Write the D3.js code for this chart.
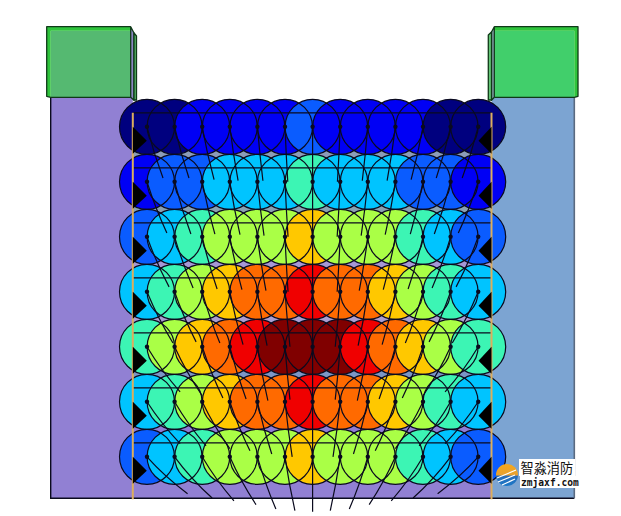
<!DOCTYPE html>
<html><head><meta charset="utf-8">
<script src="https://cdn.jsdelivr.net/npm/d3@7/dist/d3.min.js"></script>
<style>html,body{margin:0;padding:0;background:#fff}svg{display:block}</style>
</head><body><svg id="c" width="621" height="516"></svg>
<script>
// Intensity level (0..9, jet palette) of each nozzle cell, row by row, 13 columns
const row1 = [0,0,1,1,1,1,2,1,1,1,1,0,0];
const row2 = [1,2,2,3,3,3,4,3,3,3,2,2,1];
const row3 = [2,3,4,5,5,5,6,5,5,5,4,3,2];
const row4 = [3,4,5,6,7,7,8,7,7,6,5,4,3];
const row5 = [4,5,6,7,8,9,9,9,8,7,6,5,4];
const row6 = [3,4,5,6,7,7,8,7,7,6,5,4,3];
const row7 = [2,3,4,5,5,5,6,5,5,5,4,3,2];
const rows = [row1,row2,row3,row4,row5,row6,row7];
const jetColors = ["#00007f","#0000f5","#0a5cff","#00c4ff","#3cf5b4","#aaff46","#ffc800","#ff6a00","#f00000","#800000"];
const gapColors = ["#8c9cb8","#8aa2b2","#a698d6","#ab9ed2","#7c96c6","#8f7cd6"];

// Where each spray line lands, in column / row units (left half; right half mirrors)
const endCols = [
  [0.58,1.52,2.43,3.30,4.20,5.10,6],
  [0.72,1.59,2.46,3.37,4.24,5.11,6],
  [0.80,1.67,2.54,3.44,4.31,5.11,6],
  [0.94,1.78,2.64,3.48,4.35,5.18,6],
  [1.20,2.00,2.75,3.59,4.38,5.18,6],
  [1.20,2.14,3.00,3.73,4.52,5.26,6],
  [1.47,2.36,3.15,3.95,4.67,5.36,6]];
const endRows = [
  [0.93,0.93,0.96,0.98,0.98,1.00,1.00],
  [1.93,1.95,1.95,1.96,1.98,2.00,2.00],
  [2.91,2.93,2.95,2.96,2.98,3.00,3.00],
  [3.93,3.91,3.93,3.96,3.98,4.00,4.00],
  [4.82,4.89,4.93,4.95,4.98,4.96,5.00],
  [5.76,5.80,5.85,5.89,5.95,6.00,6.00],
  [6.67,6.75,6.80,6.87,6.95,6.98,7.00]];

const x = d3.scaleLinear().domain([0,12]).range([147,478.2]);
const y = d3.scaleLinear().domain([0,6]).range([126.8,456.8]);
const R = 27.5;
const color = d3.scaleOrdinal().domain(d3.range(10)).range(jetColors);
const svg = d3.select("#c");
const ink = "#0a0a1e";

const defs = svg.append("defs");
const lg2 = defs.append("linearGradient").attr("id","lg2").attr("x1",0).attr("x2",0).attr("y1",0).attr("y2",1);
lg2.append("stop").attr("offset",0).attr("stop-color","#f5a81c");
lg2.append("stop").attr("offset",.5).attr("stop-color","#e8a030");
lg2.append("stop").attr("offset",.55).attr("stop-color","#2a6cb8");
lg2.append("stop").attr("offset",1).attr("stop-color","#1a78c8");

const wallL=50.7,wallR=574.3,wallT=97.3,wallB=498.3;
const wx0=132.8, wx1=491.5;

// walls
svg.append("rect").attr("x",wallL).attr("y",wallT).attr("width",wx1-wallL).attr("height",wallB-wallT).attr("fill","#9180d3");
svg.append("rect").attr("x",wx1).attr("y",wallT).attr("width",wallR-wx1).attr("height",wallB-wallT).attr("fill","#7ca4d2");
svg.append("rect").attr("x",wx0).attr("y",wallT-1).attr("width",wx1-wx0).attr("height",16).attr("fill","#fff");
gapColors.forEach((c,i)=>{
  svg.append("rect").attr("x",wx0).attr("width",wx1-wx0)
    .attr("y",y(i)+14).attr("height",y(i+1)-y(i)-28).attr("fill",c);
});
svg.append("path").attr("fill","none").attr("stroke",ink).attr("stroke-width",1.4)
  .attr("d",`M${wallL},${wallT}V${wallB}H${wallR}`);
svg.append("path").attr("fill","none").attr("stroke","#5a6a80").attr("stroke-width",1.6)
  .attr("d",`M${wallR},${wallT}V${wallB}`);

// green blocks
const blockStroke="#0f3a18", bevel="#2fc43c";
function block(face,sideGrey,sideGreen,mirror){
  const t=26.7,ft=30.7,fb=wallT;
  const g=svg.append("g");
  const outl=s=>s.attr("stroke",blockStroke).attr("stroke-width",1.3).attr("stroke-linejoin","round");
  if(!mirror){
    const fx0=50.7,fx1=130.7;
    g.append("rect").attr("x",fx0).attr("y",ft).attr("width",fx1-fx0).attr("height",fb-ft).attr("fill",face);
    g.append("path").attr("fill",bevel).attr("d",`M46.7,${t}H${fx1}L${fx1},${ft}H${fx0}V${fb}L46.7,${fb-1}Z`);
    outl(g.append("path").attr("fill",sideGrey).attr("d",`M${fx1},${t}L134,33V${fb+3}L${fx1},${fb}Z`));
    outl(g.append("path").attr("fill",sideGreen).attr("d",`M134,33L136.5,36V100H134Z`));
    outl(g.append("path").attr("fill","none").attr("d",`M${fx1},${t}H46.7V${fb-1}L${fx0},${fb}H${fx1}`));
  } else {
    const fx0=494.3,fx1=574.3;
    g.append("rect").attr("x",fx0).attr("y",ft).attr("width",fx1-fx0).attr("height",fb-ft).attr("fill",face);
    g.append("path").attr("fill",bevel).attr("d",`M${fx0},${t}H578V${fb-1}L${fx1},${fb}V${ft}H${fx0}Z`);
    outl(g.append("path").attr("fill",sideGrey).attr("d",`M${fx0},${t}L491.5,32V${fb+3}L${fx0},${fb}Z`));
    outl(g.append("path").attr("fill",sideGreen).attr("d",`M491.5,32L488.3,35V100H491.5Z`));
    outl(g.append("path").attr("fill","none").attr("d",`M${fx0},${t}H578V${fb-1}L${fx1},${fb}H${fx0}`));
  }
}
block("#55b971","#8c86c2","#55b565",false);
block("#41cf6b","#8ca2b6","#62c474",true);

// cells: fills first, painted left to right, then all outlines on top
const cells = rows.flatMap((r,ri)=>r.map((v,ci)=>({r:ri,c:ci,v})));
svg.append("g").selectAll("circle").data(cells).join("circle")
  .attr("cx",d=>x(d.c)).attr("cy",d=>y(d.r)).attr("r",R).attr("fill",d=>color(d.v));
svg.append("g").selectAll("circle").data(cells).join("circle")
  .attr("cx",d=>x(d.c)).attr("cy",d=>y(d.r)).attr("r",R).attr("fill","none")
  .attr("stroke",ink).attr("stroke-width",1.2);

// pipes
svg.append("g").selectAll("line").data(rows).join("line")
  .attr("x1",wx0).attr("x2",wx1)
  .attr("y1",(d,i)=>y(i)-14).attr("y2",(d,i)=>y(i)-14)
  .attr("stroke",ink).attr("stroke-width",1.3);

// spray lines
const sprays = cells.map(d=>{
  const m = d.c<=6 ? d.c : 12-d.c;
  const ex = d.c<=6 ? endCols[d.r][m] : 12-endCols[d.r][m];
  return {...d, ex, ey:endRows[d.r][m]};
});
svg.append("g").selectAll("path").data(sprays).join("path")
  .attr("fill","none").attr("stroke",ink).attr("stroke-width",1.2)
  .attr("d",d=>{
    const p=d3.path(),x0=x(d.c),y0=y(d.r),x1=x(d.ex),y1=y(d.ey);
    p.moveTo(x0,y0);
    p.quadraticCurveTo(x0+(x1-x0)*0.42,y0+(y1-y0)*0.52,x1,y1);
    return p.toString();
  });
svg.append("g").selectAll("circle").data(cells).join("circle")
  .attr("cx",d=>x(d.c)).attr("cy",d=>y(d.r)).attr("r",2.2).attr("fill",ink);

// tan posts
[wx0,wx1].forEach(px=>svg.append("line").attr("x1",px).attr("x2",px)
  .attr("y1",y(0)-14).attr("y2",wallB+1).attr("stroke","#dcae5e").attr("stroke-width",2));

// black brackets
const brackets = rows.flatMap((r,i)=>[{i,px:wx0,dx:14},{i,px:wx1,dx:-13}]);
svg.append("g").selectAll("path").data(brackets).join("path").attr("fill","#000")
  .attr("d",d=>`M${d.px},${y(d.i)}L${d.px+d.dx},${y(d.i)+14}L${d.px},${y(d.i)+27}Z`);

// watermark
svg.append("rect").attr("x",519).attr("y",459).attr("width",56).attr("height",17).attr("fill","#fff");
svg.append("rect").attr("x",520).attr("y",476).attr("width",59).attr("height",12).attr("fill","#fff");
svg.append("circle").attr("cx",507).attr("cy",475).attr("r",11).attr("fill","url(#lg2)");
[[497,478,516,470],[498,482,515,475],[502,485,515,479]].forEach(a=>
  svg.append("line").attr("x1",a[0]).attr("y1",a[1]).attr("x2",a[2]).attr("y2",a[3])
    .attr("stroke","#fff").attr("stroke-width",1.2));
svg.append("text").attr("x",520.5).attr("y",473).attr("font-family","'Noto Sans CJK SC'")
  .attr("font-size",13.2).attr("fill","#111").text("智淼消防");
svg.append("text").attr("x",521).attr("y",486).attr("font-family","'DejaVu Sans Mono'")
  .attr("font-weight","bold").attr("font-size",9.6).attr("fill","#111").text("zmjaxf.com");
</script></body></html>
